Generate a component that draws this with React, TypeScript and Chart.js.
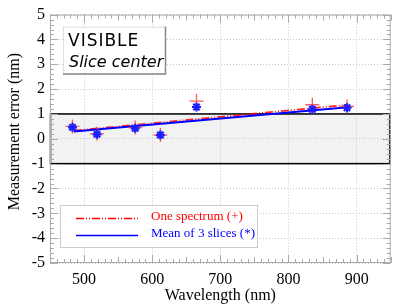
import React, { useEffect, useRef } from "react";
import { Chart, registerables } from "chart.js";

Chart.register(...registerables);

// ---- data ----
const wavelengths = [483, 519, 575, 612, 665, 835, 886];
const oneSpectrum = [0.5, 0.2, 0.45, 0.15, 1.52, 1.37, 1.3];
const meanSlices = [0.46, 0.18, 0.42, 0.15, 1.28, 1.19, 1.25];
const fitWavelengths = [485, 887];
const oneSpectrumFit = [0.33, 1.37];
const meanSlicesFit = [0.29, 1.27];
const bandRange = [-1, 1];
const xTicks = [500, 600, 700, 800, 900];
const xRange = [450, 950];
const yRange = [-5, 5];
const seriesLabels = ["One spectrum (+)", "Mean of 3 slices (*)"];
const infoLines = ["VISIBLE", "Slice center"];
const xTitle = "Wavelength (nm)";
const yTitle = "Measurement error (nm)";

const RED = "rgb(255,0,0)";
const BLUE = "rgb(0,0,255)";
const SERIF = '"Liberation Serif", "Times New Roman", serif';

const decorPlugin = {
  id: "decor",
  beforeDraw(chart: any) {
    const { ctx, chartArea: a, scales } = chart;
    const y = scales.y;
    const t = y.getPixelForValue(bandRange[1]);
    const b = y.getPixelForValue(bandRange[0]);
    ctx.save();
    ctx.fillStyle = "#f2f2f2";
    ctx.fillRect(a.left, t, a.right - a.left, b - t);
    ctx.restore();
  },
  beforeDatasetsDraw(chart: any) {
    const { ctx, chartArea: a, scales } = chart;
    const y = scales.y;
    const t = y.getPixelForValue(bandRange[1]);
    const b = y.getPixelForValue(bandRange[0]);
    ctx.save();
    ctx.strokeStyle = "#000";
    ctx.lineWidth = 1.5;
    ctx.strokeRect(a.left + 0.5, t, a.right - a.left - 1.5, b - t);
    ctx.restore();
  },
  afterDatasetsDraw(chart: any) {
    const { ctx, chartArea: a, scales } = chart;
    const x = scales.x;
    const y = scales.y;
    ctx.save();
    ctx.strokeStyle = "#aaa";
    ctx.lineWidth = 1;
    ctx.strokeRect(a.left + 0.5, a.top + 0.5, a.right - a.left - 1, a.bottom - a.top - 1);
    ctx.beginPath();
    for (let v = xRange[0]; v <= xRange[1]; v += 10) {
      const len = v % 100 === 0 ? 8 : v % 50 === 0 ? 6 : 4;
      const px = Math.round(x.getPixelForValue(v)) + 0.5;
      ctx.moveTo(px, a.bottom);
      ctx.lineTo(px, a.bottom - len);
      ctx.moveTo(px, a.top);
      ctx.lineTo(px, a.top + len);
    }
    for (let i = 0; i <= 50; i++) {
      const v = yRange[0] + i * 0.2;
      const len = i % 5 === 0 ? 8 : 4;
      const py = Math.round(y.getPixelForValue(v)) + 0.5;
      ctx.moveTo(a.left, py);
      ctx.lineTo(a.left + len, py);
      ctx.moveTo(a.right, py);
      ctx.lineTo(a.right - len, py);
    }
    ctx.stroke();
    ctx.restore();
  },
  afterDraw(chart: any) {
    const { ctx, chartArea: a } = chart;
    ctx.save();
    // axis titles
    ctx.fillStyle = "#000";
    ctx.font = `16px ${SERIF}`;
    ctx.textAlign = "center";
    ctx.textBaseline = "middle";
    ctx.fillText(xTitle, (a.left + a.right) / 2, 296);
    ctx.save();
    ctx.translate(15, a.top + 117);
    ctx.rotate(-Math.PI / 2);
    ctx.fillText(yTitle, 0, 0);
    ctx.restore();

    // info box
    const bx = a.left + 13, by = a.top + 12, bw = 102, bh = 47;
    ctx.fillStyle = "#fff";
    ctx.fillRect(bx, by, bw, bh);
    ctx.strokeStyle = "#ddd";
    ctx.lineWidth = 1;
    ctx.strokeRect(bx + 0.5, by + 0.5, bw, bh);
    ctx.strokeStyle = "#888";
    ctx.lineWidth = 1.5;
    ctx.beginPath();
    ctx.moveTo(bx + bw + 0.5, by);
    ctx.lineTo(bx + bw + 0.5, by + bh + 0.5);
    ctx.lineTo(bx, by + bh + 0.5);
    ctx.stroke();
    ctx.fillStyle = "#000";
    ctx.textAlign = "left";
    ctx.textBaseline = "alphabetic";
    ctx.font = '17px "DejaVu Sans", sans-serif';
    (ctx as any).letterSpacing = "1px";
    ctx.fillText(infoLines[0], bx + 5, by + 19);
    (ctx as any).letterSpacing = "0px";
    ctx.font = 'italic 16px "DejaVu Sans", sans-serif';
    ctx.fillText(infoLines[1], bx + 6, by + 40);

    // legend
    const lx = a.left + 10, ly = 205, lw = 197, lh = 42;
    ctx.fillStyle = "#fff";
    ctx.fillRect(lx, ly, lw, lh);
    ctx.strokeStyle = "#ccc";
    ctx.lineWidth = 1;
    ctx.strokeRect(lx + 0.5, ly + 0.5, lw, lh);
    const entries = [
      { label: seriesLabels[0], color: RED, dash: [8, 2, 1, 2, 1, 2] },
      { label: seriesLabels[1], color: BLUE, dash: [] },
    ];
    entries.forEach((e, i) => {
      const yy = ly + 13 + i * 17;
      ctx.strokeStyle = e.color;
      ctx.lineWidth = 1.5;
      ctx.setLineDash(e.dash);
      ctx.beginPath();
      ctx.moveTo(lx + 16, yy + 0.5);
      ctx.lineTo(lx + 78, yy + 0.5);
      ctx.stroke();
      ctx.setLineDash([]);
      ctx.fillStyle = e.color;
      ctx.font = `13px ${SERIF}`;
      ctx.textBaseline = "middle";
      ctx.fillText(e.label, lx + 91, yy - 1);
    });
    ctx.restore();
  },
};

export default function App() {
  const ref = useRef<HTMLCanvasElement | null>(null);
  useEffect(() => {
    if (!ref.current) return;
    const pts = (ys: number[], xs: number[]) => xs.map((x, i) => ({ x, y: ys[i] }));
    const chart = new Chart(ref.current, {
      type: "scatter",
      data: {
        datasets: [
          {
            label: seriesLabels[0] + " fit",
            data: pts(oneSpectrumFit, fitWavelengths),
            showLine: true,
            borderColor: "rgba(255,0,0,0.85)",
            borderWidth: 1.8,
            borderDash: [8, 2, 1, 2, 1, 2],
            pointRadius: 0,
            order: 3,
          },
          {
            label: seriesLabels[1] + " fit",
            data: pts(meanSlicesFit, fitWavelengths),
            showLine: true,
            borderColor: BLUE,
            borderWidth: 2,
            pointRadius: 0,
            order: 2,
          },
          {
            label: seriesLabels[0],
            data: pts(oneSpectrum, wavelengths),
            pointStyle: "cross",
            pointRadius: 7,
            borderColor: "rgba(255,50,50,0.8)",
            backgroundColor: "rgba(255,50,50,0.8)",
            pointBorderWidth: 1.3,
            order: 1,
          },
          {
            label: seriesLabels[1],
            data: pts(meanSlices, wavelengths),
            pointStyle: "star",
            pointRadius: 4.5,
            borderColor: "rgb(30,30,255)",
            backgroundColor: "rgb(30,30,255)",
            pointBorderWidth: 2.2,
            order: 0,
          },
        ],
      },
      options: {
        animation: false,
        responsive: false,
        layout: { padding: { top: 11, right: 6, left: 0, bottom: 0 } },
        plugins: { legend: { display: false }, tooltip: { enabled: false } },
        scales: {
          x: {
            type: "linear",
            min: xRange[0],
            max: xRange[1],
            afterBuildTicks: (s: any) => {
              s.ticks = xTicks.map((v) => ({ value: v }));
            },
            afterFit: (s: any) => {
              s.height = 45;
            },
            grid: { color: "#c8c8c8", drawTicks: false, lineWidth: 1 },
            border: { display: false, dash: [1, 2] },
            ticks: { font: { family: SERIF, size: 16 }, color: "#000", padding: 7, maxRotation: 0 },
          },
          y: {
            type: "linear",
            min: yRange[0],
            max: yRange[1],
            afterFit: (s: any) => {
              s.width = 50;
            },
            grid: { color: "#c8c8c8", drawTicks: false, lineWidth: 1 },
            border: { display: false, dash: [1, 2] },
            ticks: { stepSize: 1, font: { family: SERIF, size: 16 }, color: "#000", padding: 5 },
          },
        },
      },
      plugins: [decorPlugin],
    });
    return () => chart.destroy();
  }, []);
  return (
    <div style={{ position: "fixed", left: 0, top: 0, width: 399, height: 308, background: "#fff" }}>
      <canvas ref={ref} width={399} height={308} style={{ display: "block" }} />
    </div>
  );
}
